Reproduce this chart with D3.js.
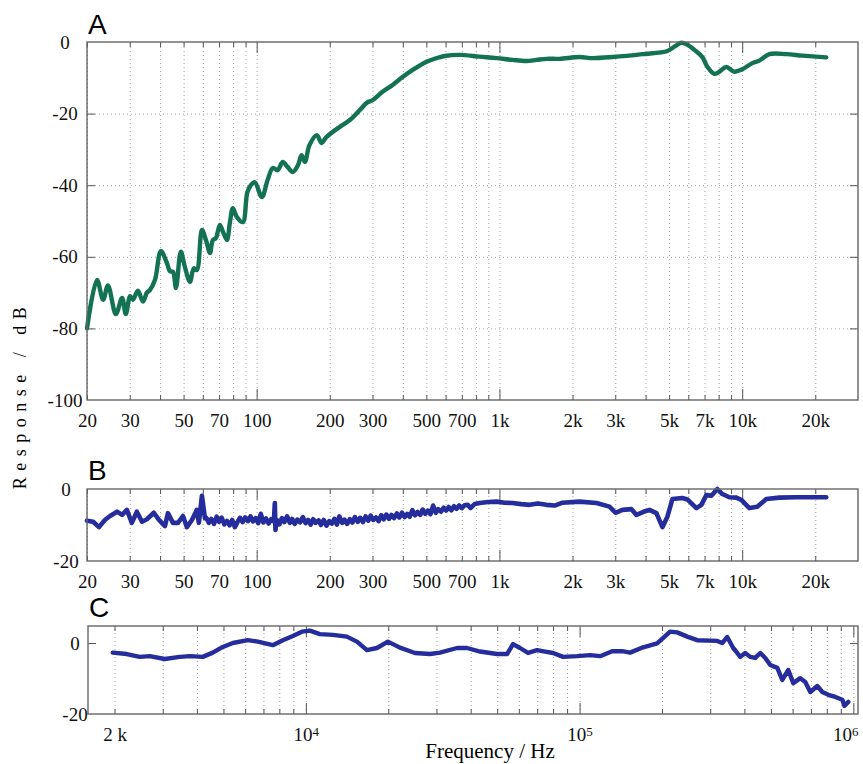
<!DOCTYPE html>
<meta charset="utf-8">
<script src="https://d3js.org/d3.v7.min.js"></script>
<style>
  body { margin: 0; background: #fff; }
</style>
<div id="chart"></div>
<script>

// ---- data ----
// panel A : frequency (Hz) / response (dB)
var freqA = [20, 22, 23.3, 24.4, 26.3, 27.9, 28.9, 30.1, 30.9, 32.4, 34, 35.3, 36.3, 38.1, 40.3,
  42.7, 43.9, 45.2, 46.5, 48.7, 50.6, 53.1, 55.1, 56.7, 59.5, 61.8, 64.2, 66, 67.9, 70.5,
  72.6, 75.4, 77.5, 79.8, 82.9, 87.7, 91.5, 94.6, 98.3, 105, 111, 116.5, 122, 128, 134,
  141, 148, 153, 158, 165, 177, 185, 194, 220, 242, 266, 284, 301, 330,
  363, 399, 439, 501, 551, 595, 686, 829, 973, 1132, 1293, 1422, 1563, 1768, 2138,
  2418, 2922, 3882, 4920, 5257, 5617, 5947, 6355, 6855, 7188, 7680, 8053, 8606, 9284, 10016,
  11012, 11768, 12937, 15200, 17690, 22200];
var dbA = [-80, -66.5, -72, -68, -76, -71.5, -76, -71, -72, -69.5, -72.5, -70, -69.3, -66.5, -58.4,
  -61.8, -64, -64.2, -68.7, -58.6, -62.8, -67, -63.2, -63.7, -52.5, -55.3, -58.9, -55.3, -54.8, -51.1,
  -53, -55.3, -50.6, -46.4, -48.9, -50.3, -42, -40, -39.2, -43.3, -38.5, -35.2, -35.8, -33.5, -34.9,
  -36.3, -34.4, -31.6, -33.5, -28.8, -26, -28.2, -26.5, -23.7, -21.8, -19, -17, -16.2, -13.9,
  -12, -9.8, -7.8, -5.5, -4.5, -3.9, -3.6, -4.1, -4.5, -5, -5.3, -5, -4.7, -4.7, -4.2,
  -4.5, -4.2, -3.4, -2.5, -1.3, -0.2, -0.8, -2.2, -4.2, -6.9, -8.9, -8.3, -7, -8.3, -7.6,
  -5.9, -5.2, -3.4, -3.4, -3.8, -4.3];

// panel B
var freqB = [20, 21.2, 22.4, 23.7, 24.9, 26.6, 27.9, 29.2, 30.6, 32.1, 33.7, 35.3, 37.7, 39.6, 41.9,
  43.1, 45.2, 47.4, 49.7, 51.6, 54.1, 56.7, 57.8, 59.5, 61.2,
  62, 63.5, 65, 66.7, 68.4, 70, 71.8, 73.6, 75.5, 77.4, 79.3, 81.3, 83.3, 85.4, 87.5,
  89.7, 92, 94.3, 96.6, 99, 101.5, 104, 106.6, 109.3, 112, 114.8, 117.7, 118.8, 119.5, 121,
  124, 127, 130, 133.5, 137, 140, 143.5, 147, 151, 155, 159, 163, 167, 171, 175,
  180, 184, 189, 194, 199, 204, 209, 214, 219, 225, 230, 236, 242, 248, 254,
  261, 267, 274, 281, 288, 295, 302, 310, 318, 326, 334, 342, 351, 359, 368,
  378, 387, 397, 407, 417, 427, 438, 449, 460, 472, 483, 495, 508, 520, 533,
  547, 560, 574, 589, 603, 618, 634, 650, 666, 683, 700, 718,
  740, 760, 790, 829, 900, 973, 1050, 1132, 1230, 1331, 1440, 1563, 1690,
  1819, 2138, 2512, 2840, 3006, 3212, 3498, 3668, 3900, 4150, 4433, 4692, 4920, 5158, 5672,
  5947, 6476, 6790, 7119, 7465, 7902, 8286, 8851, 9460, 9920, 10700, 11540, 12570, 14220, 16700,
  22200];
var dbB = [-8.8, -9.1, -10.6, -8.6, -7.5, -6.3, -7.2, -5.8, -9.4, -6.3, -9.1, -8.4, -6.6, -8.6, -10.3,
  -6.7, -9.4, -9.4, -7.5, -10.6, -8.6, -5.8, -9.4, -1.9, -8.1,
  -8.0, -9.4, -8.3, -9.7, -7.7, -9.1, -8.0, -9.8, -8.9, -10.1, -8.6, -10.6, -9.2, -8.0, -9.2,
  -7.9, -8.9, -7.6, -9.0, -8.1, -9.5, -6.9, -9.3, -8.2, -9.6, -8.4, -9.0, -3.9, -11.4, -8.6,
  -9.8, -8.1, -9.2, -7.6, -9.4, -8.3, -9.7, -8.5, -9.3, -7.8, -9.5, -8.6, -9.9, -8.4, -9.4,
  -8.7, -10.0, -8.6, -10.2, -8.9, -9.6, -8.3, -9.9, -7.6, -9.4, -8.5, -9.7, -8.4, -9.3, -7.8,
  -9.1, -8.0, -9.2, -7.6, -8.8, -7.4, -8.6, -7.9, -8.9, -7.3, -8.4, -7.1, -8.3, -7.2, -8.1,
  -6.8, -7.9, -6.6, -7.8, -6.9, -7.7, -5.9, -7.3, -6.4, -7.2, -5.7, -6.9, -6.0, -7.0, -4.6,
  -6.6, -5.6, -6.3, -5.2, -6.0, -5.0, -5.9, -4.8, -5.5, -4.6, -5.3, -4.5,
  -4.4, -5.3, -4.2, -3.9, -3.6, -3.5, -3.8, -3.9, -4.2, -4.4, -4, -4.4, -4.6,
  -3.8, -3.5, -3.9, -4.9, -6.6, -5.8, -5.6, -7.2, -6.4, -5.8, -6.7, -10.6, -7.7, -2.8, -2.5,
  -2.9, -5.3, -4.4, -1.7, -1.9, 0, -1.4, -2.3, -2.4, -3, -5.3, -4.9, -2.8, -2.4, -2.3,
  -2.3];

// panel C
var freqC = [1970, 2216, 2473, 2689, 3051, 3462, 3766, 4202, 4571, 4972, 5410, 6136, 6675, 7573, 8240,
  8965, 9670, 10340, 11250, 12550, 14120, 15370, 16710, 18180, 19940, 22070, 25030, 28400, 30900, 35660,
  38790, 43280, 49930, 54310, 57130, 60580, 64810, 69940, 74800, 80020, 87040, 97930, 109240, 118850, 131500,
  143000, 152970, 170700, 192000, 214200, 227200, 247300, 268900, 318200, 331900, 346200, 364100, 376600, 386200, 402700,
  420200, 438200, 457100, 476700, 497200, 527500, 550100, 578500, 603400, 640000, 667500, 696200, 738600, 770400, 810300,
  859700, 911900, 927400, 958800];
var dbC = [-2.7, -3.1, -3.9, -3.7, -4.5, -3.9, -3.7, -3.9, -2.7, -1.1, 0, 0.8, 0.4, -0.6, 0.8,
  2, 3.2, 3.5, 2.5, 2.3, 1.8, 0.4, -2, -1.4, 0.4, -1.3, -2.8, -3.1, -2.7, -1.4,
  -1.4, -2.4, -3.1, -3.1, -0.3, -1.4, -2.8, -2, -2.4, -2.8, -3.9, -3.7, -3.4, -3.7, -2.3,
  -2.3, -2.7, -1.2, -0.1, 3.2, 3, 1.8, 0.8, 0.6, 0, 1.7, -1.4, -2.8, -3.9, -2.8,
  -3.9, -4.2, -2.8, -4.2, -6.2, -7, -10.4, -7.6, -11.3, -9.9, -11, -13.8, -12.1, -13.8, -14.6,
  -15.2, -16, -17.7, -16.6];

// ticks
var ticksAB = [20, 30, 50, 70, 100, 200, 300, 500, 700, 1000, 2000, 3000, 5000, 7000, 10000, 20000];
var tickLabelsAB = ["20", "30", "50", "70", "100", "200", "300", "500", "700", "1k", "2k", "3k", "5k", "7k", "10k", "20k"];
var ticksC = [2000, 1e4, 1e5, 1e6];
var tickLabelsC = ["2 k", "10^4", "10^5", "10^6"];
var yTicksA = [0, -20, -40, -60, -80, -100];
var yTicksB = [0, -20];
var yTicksC = [0, -20];

var SERIF = "'Liberation Serif', 'Times New Roman', Times, 'DejaVu Serif', serif";
var SANS = "'Liberation Sans', Arial, Helvetica, sans-serif";

// grid lines: every 1..9 x 10^n
function decadeGrid(lo, hi) {
  var out = [];
  for (var p = 1; p <= 6; p++)
    for (var m = 1; m <= 9; m++) {
      var v = m * Math.pow(10, p);
      if (v >= lo && v <= hi) out.push(v);
    }
  return out;
}
var gridAB = decadeGrid(20, 10000).concat([20000]);
var gridC = decadeGrid(2000, 1e6);

var width = 863, height = 764;
var svg = d3.select("#chart").append("svg")
  .attr("width", width).attr("height", height)
  .style("font-family", SERIF);

var xAB = d3.scaleLog().domain([20, 30000]).range([87, 858]);
var xC = d3.scaleLog().domain([1600, 1.04e6]).range([88, 858]);

function panel(cfg) {
  var x = cfg.x, y = cfg.y;
  var left = x.range()[0], right = x.range()[1];
  var top = y.range()[1], bottom = y.range()[0];
  var g = svg.append("g");

  // dotted vertical grid
  g.append("g")
    .attr("transform", "translate(0," + bottom + ")")
    .call(d3.axisBottom(x).tickValues(cfg.grid).tickSize(-(bottom - top)).tickFormat(""))
    .call(s => s.select(".domain").remove())
    .selectAll("line")
      .attr("stroke", "#9a9a9a")
      .attr("stroke-width", 0.9)
      .attr("stroke-dasharray", "1,3");

  // dotted horizontal grid
  if (cfg.hgrid) {
    g.append("g")
      .attr("transform", "translate(" + left + ",0)")
      .call(d3.axisRight(y).tickValues(cfg.hgrid).tickSize(right - left).tickFormat(""))
      .call(s => s.select(".domain").remove())
      .selectAll("line")
        .attr("stroke", "#9a9a9a")
        .attr("stroke-width", 0.9)
        .attr("stroke-dasharray", "1,3");
  }

  // inward ticks, bottom and top
  function tickLen(d) { return cfg.major.indexOf(d) >= 0 ? 11 : 5; }
  g.append("g")
    .attr("transform", "translate(0," + bottom + ")")
    .call(d3.axisBottom(x).tickValues(cfg.grid).tickFormat(""))
    .call(s => s.select(".domain").remove())
    .selectAll("line").attr("y2", d => -tickLen(d)).attr("stroke", "#555");
  g.append("g")
    .attr("transform", "translate(0," + top + ")")
    .call(d3.axisTop(x).tickValues(cfg.grid).tickFormat(""))
    .call(s => s.select(".domain").remove())
    .selectAll("line").attr("y2", d => tickLen(d)).attr("stroke", "#555");

  // inward y ticks
  if (cfg.yTickMarks) {
    g.append("g")
      .attr("transform", "translate(" + left + ",0)")
      .call(d3.axisRight(y).tickValues(cfg.yTickMarks).tickSize(8).tickFormat(""))
      .call(s => s.select(".domain").remove())
      .selectAll("line").attr("stroke", "#555");
    g.append("g")
      .attr("transform", "translate(" + right + ",0)")
      .call(d3.axisLeft(y).tickValues(cfg.yTickMarks).tickSize(8).tickFormat(""))
      .call(s => s.select(".domain").remove())
      .selectAll("line").attr("stroke", "#555");
  }

  // the curve
  var pts = cfg.freq.map((f, i) => [f, cfg.db[i]]);
  g.append("path")
    .datum(pts)
    .attr("fill", "none")
    .attr("stroke", cfg.color)
    .attr("stroke-width", cfg.lw)
    .attr("stroke-linejoin", "round")
    .attr("stroke-linecap", "round")
    .attr("d", d3.line().x(d => x(d[0])).y(d => y(d[1])).curve(cfg.curve));

  // frame
  g.append("rect")
    .attr("x", left).attr("y", top)
    .attr("width", right - left).attr("height", bottom - top)
    .attr("fill", "none").attr("stroke", "#666").attr("stroke-width", 1.4);

  // x tick labels
  var xl = g.append("g")
    .attr("transform", "translate(0," + bottom + ")")
    .call(d3.axisBottom(x).tickValues(cfg.ticks).tickSize(0).tickPadding(cfg.pad).tickFormat(""))
    .call(s => s.select(".domain").remove())
    .attr("font-family", SERIF);
  xl.selectAll(".tick text")
    .attr("font-size", 19).attr("fill", "#111")
    .style("font-family", SERIF)
    .each(function (d, i) {
      var lab = cfg.tickLabels[i], t = d3.select(this);
      if (lab.indexOf("^") > 0) {
        var parts = lab.split("^");
        t.append("tspan").text(parts[0]);
        t.append("tspan").attr("font-size", 13).attr("dy", "-0.45em").text(parts[1]);
        if (d >= 1e6) t.attr("dx", -8);
      } else {
        t.text(lab);
      }
    });

  // y tick labels (centred like the original)
  g.append("g").selectAll("text")
    .data(cfg.yTicks)
    .join("text")
      .attr("x", cfg.ylabX)
      .attr("y", d => y(d))
      .attr("dy", "0.35em")
      .attr("text-anchor", "middle")
      .attr("font-size", 19)
      .attr("fill", "#111")
      .style("font-family", SERIF)
      .text(d => String(d));

  // panel letter
  g.append("text")
    .attr("x", left + 1)
    .attr("y", cfg.letterY)
    .attr("font-size", 28)
    .style("font-family", SANS)
    .text(cfg.letter);
}

panel({
  x: xAB, y: d3.scaleLinear().domain([-100, 0]).range([400, 42]),
  freq: freqA, db: dbA, color: "#137254", lw: 4.4, curve: d3.curveCatmullRom,
  grid: gridAB, major: [100, 1000, 10000], hgrid: [-20, -40, -60, -80], yTickMarks: [-20, -40, -60, -80],
  ticks: ticksAB, tickLabels: tickLabelsAB, pad: 14,
  yTicks: yTicksA, ylabX: 65, letter: "A", letterY: 34
});

panel({
  x: xAB, y: d3.scaleLinear().domain([-20, 0]).range([561, 489]),
  freq: freqB, db: dbB, color: "#252c9c", lw: 4.6, curve: d3.curveLinear,
  grid: gridAB, major: [100, 1000, 10000],
  ticks: ticksAB, tickLabels: tickLabelsAB, pad: 14,
  yTicks: yTicksB, ylabX: 66, letter: "B", letterY: 480
});

panel({
  x: xC, y: d3.scaleLinear().domain([-20, 4.8]).range([714, 626]),
  freq: freqC, db: dbC, color: "#252c9c", lw: 4.4, curve: d3.curveLinear,
  grid: gridC, major: [1e4, 1e5, 1e6], yTickMarks: [0],
  ticks: ticksC, tickLabels: tickLabelsC, pad: 14,
  yTicks: yTicksC, ylabX: 75, letter: "C", letterY: 617
});

// axis titles
svg.append("text")
  .attr("transform", "translate(26,395) rotate(-90)")
  .attr("text-anchor", "middle")
  .attr("font-size", 18)
  .attr("letter-spacing", 6.5)
  .style("font-family", SERIF)
  .text("Response / dB");

svg.append("text")
  .attr("x", 490)
  .attr("y", 758)
  .attr("text-anchor", "middle")
  .attr("font-size", 21)
  .style("font-family", SERIF)
  .text("Frequency / Hz");

</script>
